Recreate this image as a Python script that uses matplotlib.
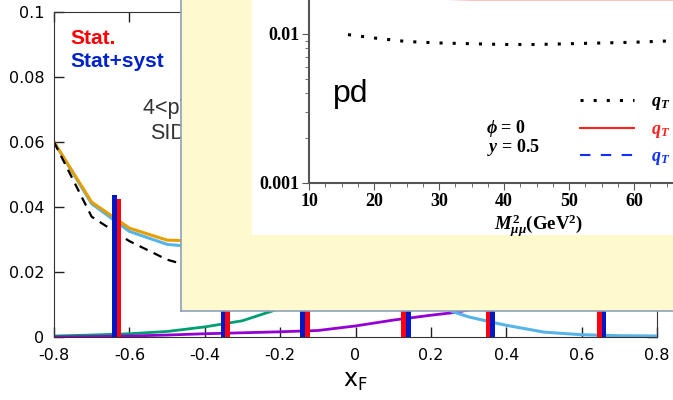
import numpy as np
import matplotlib.pyplot as plt
from matplotlib.ticker import MultipleLocator, FixedLocator, FixedFormatter

plt.rcParams['axes.unicode_minus'] = False
plt.rcParams['mathtext.fontset'] = 'custom'
plt.rcParams['mathtext.rm'] = 'Liberation Serif:bold'
plt.rcParams['mathtext.it'] = 'Liberation Serif:italic:bold'
plt.rcParams['mathtext.bf'] = 'Liberation Serif:bold'
plt.rcParams['mathtext.fallback'] = 'stix'

# x_F distributions (main panel)
xf = [-0.8, -0.7, -0.6, -0.5, -0.4, -0.3, -0.2, -0.1, 0.0, 0.1, 0.2, 0.26, 0.3, 0.36, 0.4, 0.5, 0.6, 0.7, 0.8]
total = [0.06, 0.0415, 0.0335, 0.0298, 0.0295, 0.031, 0.034, 0.037, 0.039, 0.039, 0.037, 0.035, 0.034, 0.032, 0.03, 0.026, 0.022, 0.02, 0.019]
sea = [0.06, 0.041, 0.0325, 0.0285, 0.0275, 0.027, 0.026, 0.024, 0.02, 0.015, 0.0105, 0.0077, 0.0062, 0.0046, 0.0036, 0.0015, 0.0007, 0.0004, 0.0003]
lo = [0.06, 0.037, 0.0295, 0.0238, 0.0205, 0.019, 0.018, 0.018, 0.018, 0.018, 0.018, 0.018, 0.018, 0.018, 0.018, 0.018, 0.018, 0.018, 0.018]
green = [0.0003, 0.0006, 0.001, 0.0017, 0.0031, 0.005, 0.0088, 0.014, 0.019, 0.023, 0.025, 0.025, 0.025, 0.024, 0.023, 0.02, 0.017, 0.014, 0.012]
purple = [0.0, 0.0001, 0.0003, 0.0006, 0.001, 0.0013, 0.0016, 0.002, 0.0034, 0.0052, 0.0067, 0.0075, 0.0083, 0.0092, 0.0098, 0.012, 0.014, 0.017, 0.02]

# projected uncertainties per x_F bin
bins = [-0.633, -0.346, -0.134, 0.134, 0.357, 0.654]
stat = [0.0425, 0.031, 0.026, 0.021, 0.017, 0.013]
syst = [0.0437, 0.032, 0.027, 0.022, 0.018, 0.014]

# inset: cross section ratio vs M^2
m2 = [16, 20, 25, 30, 35, 40, 45, 50, 55, 60, 66]
r_q1 = [0.0099, 0.0094, 0.0089, 0.0087, 0.0086, 0.0085, 0.0085, 0.0086, 0.0087, 0.0088, 0.009]
r_q2 = [0.022, 0.0195, 0.018, 0.0172, 0.0171, 0.0171, 0.0171, 0.0171, 0.0171, 0.0171, 0.0171]
r_q3 = [0.035, 0.033, 0.031, 0.03, 0.029, 0.029, 0.029, 0.029, 0.029, 0.03, 0.03]

W, H = 673, 400
fig = plt.figure(figsize=(W / 100, H / 100), dpi=100)


def box(x0, y0, x1, y1):
    # pixel box (top-left origin) -> figure fraction rect
    return [x0 / W, 1 - y1 / H, (x1 - x0) / W, (y1 - y0) / H]


ax = fig.add_axes(box(54, 12, 657, 337))
ax.plot(xf, green, color='#009E73', lw=2, zorder=2)
ax.plot(xf, purple, color='#9400D3', lw=2, zorder=2)
ax.plot(xf, sea, color='#56B4E9', lw=2.2, zorder=2)
ax.plot(xf, total, color='#E69F00', lw=2.2, zorder=2)
ax.plot(xf, lo, color='black', lw=1.6, ls=(0, (4, 3)), zorder=2)

bw = 0.012
for x, s, t in zip(bins, stat, syst):
    if x < 0:
        ax.bar(x - bw, t, width=bw, align='edge', color='#0018C8', zorder=3)
        ax.bar(x, s, width=bw, align='edge', color='#FF0010', zorder=3)
    else:
        ax.bar(x - bw, s, width=bw, align='edge', color='#FF0010', zorder=3)
        ax.bar(x, t, width=bw, align='edge', color='#0018C8', zorder=3)

ax.set_xlim(-0.8, 0.8)
ax.set_ylim(0, 0.1)
ax.set_xticks(np.round(np.arange(-0.8, 0.81, 0.2), 1))
ax.set_xticklabels(['-0.8', '-0.6', '-0.4', '-0.2', '0', '0.2', '0.4', '0.6', '0.8'])
ax.set_yticks([0, 0.02, 0.04, 0.06, 0.08, 0.1])
ax.set_yticklabels(['0', '0.02', '0.04', '0.06', '0.08', '0.1'])
ax.tick_params(direction='in', length=7, width=1, top=True, right=True,
               labelsize=11.5, color='#222222')
ax.tick_params(axis='y', pad=7)
ax.tick_params(axis='x', pad=8)
for sp in ax.spines.values():
    sp.set_color('#333333')
ax.set_xlabel(r'$\mathregular{x_F}$', fontsize=17, labelpad=4)
ax.xaxis.label.set_fontfamily('DejaVu Sans')

ax.text(0.027, 0.9, 'Stat.', transform=ax.transAxes, color='#FF0000',
        fontsize=15, fontweight='bold', family='Liberation Sans')
ax.text(0.027, 0.83, 'Stat+syst', transform=ax.transAxes, color='#0022CC',
        fontsize=15, fontweight='bold', family='Liberation Sans')
ax.text(0.148, 0.685, '4<pT<8 GeV', transform=ax.transAxes,
        color='#333333', fontsize=15.5, family='Liberation Sans')
ax.text(0.159, 0.608, 'SIDIS', transform=ax.transAxes,
        color='#333333', fontsize=15.5, family='Liberation Sans')

# pale yellow panel laid over the plot
yb = fig.add_axes(box(181, -5, 680, 311))
yb.set_facecolor('#FFF9CE')
yb.set_xticks([])
yb.set_yticks([])
for k in ['top', 'right']:
    yb.spines[k].set_visible(False)
for k in ['left', 'bottom']:
    yb.spines[k].set_color('#8BA2BE')
    yb.spines[k].set_linewidth(1.2)

# white sheet holding the log plot
wb = fig.add_axes(box(252, -5, 680, 235))
wb.set_facecolor('white')
wb.set_xticks([])
wb.set_yticks([])
for sp in wb.spines.values():
    sp.set_visible(False)

ins = fig.add_axes(box(309, 0, 673, 183))
ins.patch.set_alpha(0)
ins.set_yscale('log')
ins.plot(m2, r_q1, color='black', lw=2.2, ls=(0, (1, 3.3)), label=r'$q_T$ = 1 GeV')
ins.plot(m2, r_q2, color='#FF2020', lw=1.5, label=r'$q_T$ = 2 GeV')
ins.plot(m2, r_q3, color='#1030FF', lw=1.5, ls=(0, (5, 5)), label=r'$q_T$ = 3 GeV')
ins.set_xlim(10, 66)
ins.set_ylim(0.001, 0.0169)
ins.spines['top'].set_visible(False)
ins.spines['right'].set_visible(False)
for k in ['left', 'bottom']:
    ins.spines[k].set_color('#555555')
    ins.spines[k].set_linewidth(1.5)
ins.xaxis.set_major_locator(MultipleLocator(10))
ins.xaxis.set_minor_locator(MultipleLocator(2.5))
ins.yaxis.set_major_locator(FixedLocator([0.001, 0.01]))
ins.yaxis.set_major_formatter(FixedFormatter(['0.001', '0.01']))
ins.tick_params(which='major', direction='out', length=5, color='#555555',
                labelsize=13, pad=2)
ins.tick_params(which='minor', direction='out', length=3, color='#555555')
for lab in ins.get_xticklabels() + ins.get_yticklabels():
    lab.set_fontfamily('Liberation Serif')
    lab.set_fontweight('bold')
ins.set_xlabel(r'$M^2_{\mu\mu}$(GeV$^2$)', fontsize=13.5, family='Liberation Serif',
               fontweight='bold')
ins.xaxis.set_label_coords(0.63, -0.165)

leg = ins.legend(loc='upper left', bbox_to_anchor=(0.745, 0.5), frameon=False,
                 handlelength=3.0, handletextpad=0.9, labelspacing=0.35,
                 borderpad=0, borderaxespad=0, labelcolor='linecolor',
                 prop={'family': 'Liberation Serif', 'weight': 'bold', 'size': 13})

ins.text(0.065, 0.44, 'pd', transform=ins.transAxes, fontsize=23,
         family='Liberation Sans', color='black')
ins.text(0.485, 0.30, r'$\phi$ = 0', transform=ins.transAxes, fontsize=13,
         family='Liberation Serif', fontweight='bold', va='center')
ins.text(0.49, 0.195, r'$y$ = 0.5', transform=ins.transAxes, fontsize=13,
         family='Liberation Serif', fontweight='bold', va='center')

fig.savefig('out.png', dpi=100)
